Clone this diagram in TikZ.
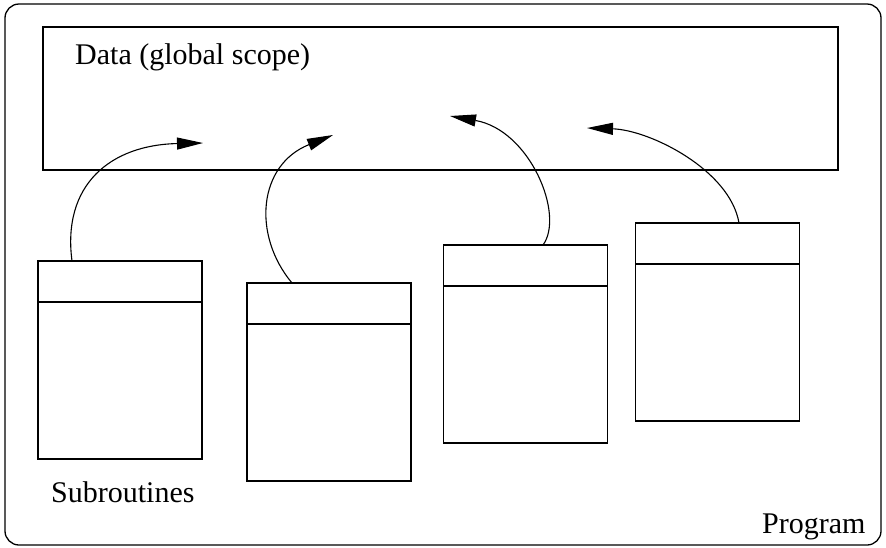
\documentclass[tikz,border=0pt]{standalone}
\usepackage{fontspec}
\setmainfont{Liberation Serif}
\usetikzlibrary{arrows.meta}

\tikzset{
  txt/.style={font=\fontsize{30}{36}\selectfont, inner sep=0pt},
  subbox/.style={draw, line width=1.2pt, minimum width=164pt, minimum height=198pt, inner sep=0pt, outer sep=0pt},
  call/.style={line width=1.1pt, -{Triangle[length=26pt,width=12pt]}}
}

\begin{document}
\begin{tikzpicture}[x=1pt,y=-1pt]
\useasboundingbox (0,0) rectangle (886,547);

% program frame
\draw[line width=1.3pt, rounded corners=14pt] (5,4) rectangle (881,545);
\node[txt, anchor=base west] (prog) at (762,533) {Program};

% global data
\node[draw, line width=1.2pt, minimum width=795pt, minimum height=143pt, inner sep=0pt, outer sep=0pt] (data) at (440.5,98.5) {};
\node[txt, anchor=base west] (datalbl) at (75,64) {Data (global scope)};

% subroutines
\foreach \i/\x/\y in {1/120/360, 2/329/382, 3/525.5/344, 4/717.5/322}{
	\node[subbox] (sub\i) at (\x,\y) {};
	\draw[line width=1.2pt] ([yshift=-41pt]sub\i.north west) -- ([yshift=-41pt]sub\i.north east);
}
\node[txt, anchor=base west] (sublbl) at (51,502) {Subroutines};

% access to the data
\coordinate (t1) at (203,143);
\coordinate (t2) at (333,135);
\coordinate (t3) at (450,116);
\coordinate (t4) at (587,128);

\draw[call] ([xshift=-48pt]sub1.north) .. controls (62,185) and (110,145) .. (t1);
\draw[call] ([xshift=-37pt]sub2.north) .. controls (252,235) and (258,165) .. (t2);
\draw[call] ([xshift=17.5pt]sub3.north) .. controls (565,215) and (530,130) .. (t3);
\draw[call] ([xshift=21.5pt]sub4.north) .. controls (730,170) and (650,130) .. (t4);
\end{tikzpicture}
\end{document}
